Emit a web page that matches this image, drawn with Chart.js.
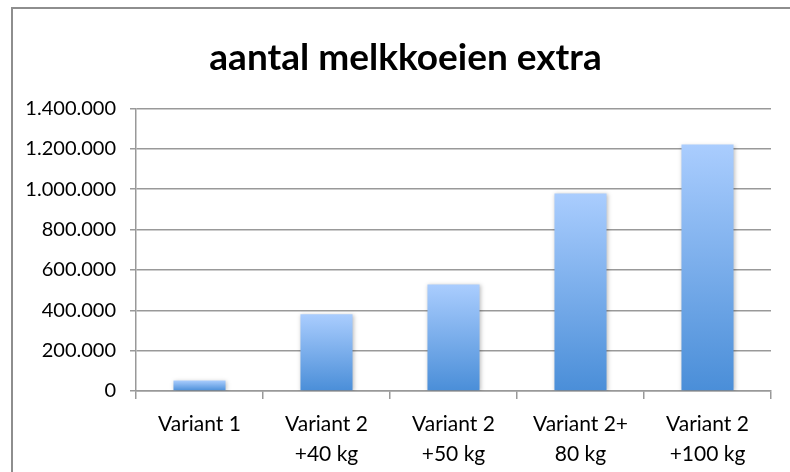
<!DOCTYPE html>
<html>
<head>
<meta charset="utf-8">
<script src="https://cdn.jsdelivr.net/npm/chart.js@4/dist/chart.umd.min.js"></script>
<style>
  html, body { margin: 0; padding: 0; background: #fff; }
  #wrap { position: relative; width: 790px; height: 472px; overflow: hidden; }
  #frame { position: absolute; left: 11px; top: 7px; width: 800px; height: 480px;
           border-left: 2px solid #8e8e8e; border-top: 2px solid #8e8e8e; pointer-events: none; }
  canvas { position: absolute; left: 0; top: 0; }
</style>
</head>
<body>
<div id="wrap">
  <canvas id="c" width="790" height="472"></canvas>
  <div id="frame"></div>
</div>
<script>
const title = "aantal melkkoeien extra";
const categories = [["Variant 1"], ["Variant 2", "+40 kg"], ["Variant 2", "+50 kg"], ["Variant 2+", "80 kg"], ["Variant 2", "+100 kg"]];
const values = [52000, 380000, 528000, 979000, 1221000];
const yTicks = [0, 200000, 400000, 600000, 800000, 1000000, 1200000, 1400000];

function fmt(v) {
  return String(Math.round(v)).replace(/\B(?=(\d{3})+(?!\d))/g, ".");
}

const FONT = "Lato, 'Open Sans', sans-serif";

const shadowPlugin = {
  id: 'barShadow',
  beforeDatasetDraw(chart) {
    const ctx = chart.ctx;
    ctx.save();
    ctx.shadowColor = 'rgba(0,0,0,0.25)';
    ctx.shadowBlur = 4;
    ctx.shadowOffsetX = 1;
    ctx.shadowOffsetY = 1;
  },
  afterDatasetDraw(chart) {
    chart.ctx.restore();
  }
};

// centre the title over the framed chart box rather than the full canvas
const titleShift = {
  id: 'titleShift',
  afterLayout(chart) {
    if (chart.titleBlock) chart.titleBlock.left += 26;
  }
};

new Chart(document.getElementById('c'), {
  type: 'bar',
  data: {
    labels: categories,
    datasets: [{
      data: values,
      borderWidth: 0,
      barPercentage: 0.82,
      categoryPercentage: 0.5,
      backgroundColor(ctx) {
        const chart = ctx.chart;
        const y = chart.scales.y;
        if (!y || !chart.chartArea) return '#7fb0ec';
        const top = y.getPixelForValue(ctx.raw);
        const bottom = y.getPixelForValue(0);
        if (!isFinite(top) || !isFinite(bottom) || top === bottom) return '#7fb0ec';
        const g = chart.ctx.createLinearGradient(0, top, 0, bottom);
        g.addColorStop(0, '#aacdfe');
        g.addColorStop(1, '#4a8ed8');
        return g;
      }
    }]
  },
  plugins: [shadowPlugin, titleShift],
  options: {
    responsive: false,
    animation: false,
    devicePixelRatio: 1,
    layout: { padding: { left: 14, right: 19, top: 26, bottom: 0 } },
    plugins: {
      legend: { display: false },
      tooltip: { enabled: false },
      title: {
        display: true,
        text: title,
        color: '#000',
        font: { family: FONT, size: 37, weight: 'bold', lineHeight: 1.2 },
        padding: { top: 10, bottom: 28 }
      }
    },
    scales: {
      x: {
        grid: { display: true, drawOnChartArea: false, drawTicks: true, tickLength: 8, color: '#999', lineWidth: 1.5 },
        border: { display: true, color: '#999', width: 1.5 },
        ticks: { color: '#000', font: { family: FONT, size: 21, lineHeight: 1.4 }, padding: 11, maxRotation: 0 },
        afterFit(s) { s.height = 81; }
      },
      y: {
        min: 0,
        max: 1400000,
        afterBuildTicks(s) { s.ticks = yTicks.map(v => ({ value: v })); },
        grid: { color: '#999', lineWidth: 1.5, tickLength: 6 },
        border: { display: true, color: '#999', width: 1.5 },
        ticks: { color: '#000', font: { family: FONT, size: 20 }, padding: 14, callback: v => fmt(v) },
        afterFit(s) { s.width = 122; }
      }
    }
  }
});
</script>
</body>
</html>
